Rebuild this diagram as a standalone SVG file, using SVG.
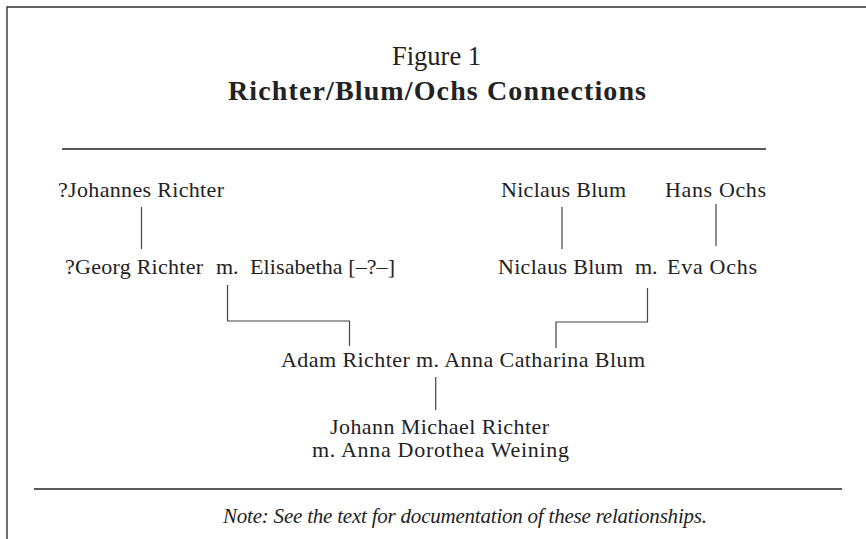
<svg xmlns="http://www.w3.org/2000/svg" width="866" height="539" viewBox="0 0 866 539">
<style>
text { font-family: "Liberation Serif", "Times New Roman", serif; fill: #222; }
.body { font-size: 22px; }
.fig { font-size: 26.5px; }
.title { font-size: 28px; font-weight: bold; }
.note { font-size: 21px; font-style: italic; }
.frame { stroke: #333; stroke-width: 1.4; fill: none; }
.rule { stroke: #222; stroke-width: 1.3; fill: none; }
.conn { stroke: #444; stroke-width: 1.2; fill: none; }
</style>
<rect width="866" height="539" fill="#fff"/>
<g id="frame">
<path class="frame" d="M7,539 V7 H866"/>
</g>
<g id="header">
<text class="fig" x="392" y="65" textLength="89" lengthAdjust="spacing">Figure 1</text>
<text class="title" x="228" y="100" textLength="418" lengthAdjust="spacing">Richter/Blum/Ochs Connections</text>
<line class="rule" x1="62" y1="149" x2="766" y2="149"/>
</g>
<g id="connectors">
<line class="conn" x1="141.5" y1="207" x2="141.5" y2="249"/>
<line class="conn" x1="562" y1="207" x2="562" y2="249"/>
<line class="conn" x1="716" y1="204" x2="716" y2="246"/>
<path class="conn" d="M227.5,285 V321 H349.5 V346"/>
<path class="conn" d="M647.5,288 V322 H556 V348"/>
<line class="conn" x1="435.7" y1="377" x2="435.7" y2="410"/>
</g>
<g id="johannes-richter">
<text class="body" x="58" y="197" textLength="166" lengthAdjust="spacing">?Johannes Richter</text>
</g>
<g id="niclaus-blum-sr">
<text class="body" x="501" y="197" textLength="125" lengthAdjust="spacing">Niclaus Blum</text>
</g>
<g id="hans-ochs">
<text class="body" x="665" y="197" textLength="101" lengthAdjust="spacing">Hans Ochs</text>
</g>
<g id="georg-elisabetha">
<text class="body" x="65" y="274" textLength="138" lengthAdjust="spacing">?Georg Richter</text>
<text class="body" x="216" y="274">m.</text>
<text class="body" x="250" y="274" textLength="145" lengthAdjust="spacing">Elisabetha [–?–]</text>
</g>
<g id="niclaus-eva">
<text class="body" x="498" y="274" textLength="125" lengthAdjust="spacing">Niclaus Blum</text>
<text class="body" x="635" y="274">m.</text>
<text class="body" x="667" y="274" textLength="90" lengthAdjust="spacing">Eva Ochs</text>
</g>
<g id="adam-anna">
<text class="body" x="281" y="367" textLength="364" lengthAdjust="spacing">Adam Richter m. Anna Catharina Blum</text>
</g>
<g id="johann-michael">
<text class="body" x="330" y="434" textLength="219" lengthAdjust="spacing">Johann Michael Richter</text>
<text class="body" x="312" y="457" textLength="257" lengthAdjust="spacing">m. Anna Dorothea Weining</text>
</g>
<g id="footer">
<line class="rule" x1="34" y1="489" x2="842" y2="489"/>
<text class="note" x="223" y="523" textLength="484" lengthAdjust="spacing">Note: See the text for documentation of these relationships.</text>
</g>
</svg>
